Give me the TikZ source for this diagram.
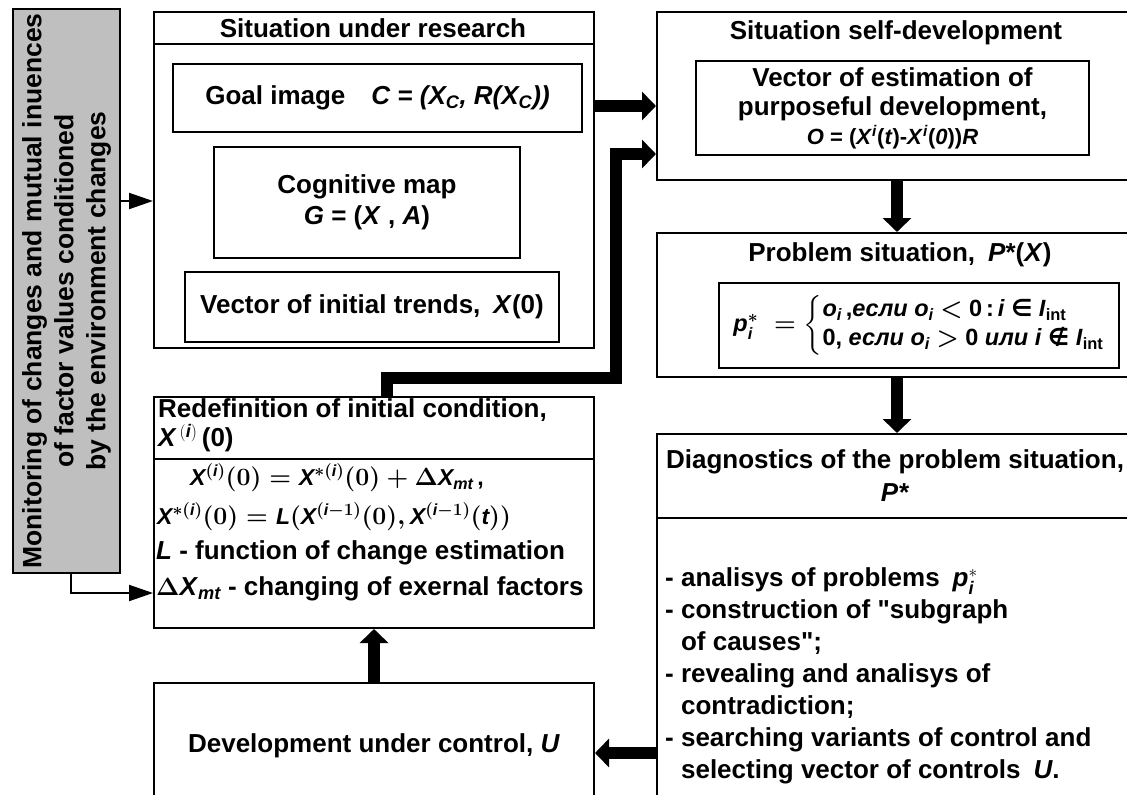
\documentclass[tikz,border=0pt]{standalone}
\usepackage{amsmath}
\usepackage{fontspec}
\setmainfont{Liberation Sans}
\newfontfamily\symf{DejaVu Sans}
\usepackage{tikz}
\usetikzlibrary{arrows.meta,positioning}

% italic letter in bold sans
\newcommand{\iv}[1]{\textit{#1}}

\begin{document}
\begin{tikzpicture}[x=1pt,y=-1pt,
    every node/.style={font=\fontsize{26}{31}\selectfont\bfseries\boldmath, inner sep=0pt},
    box/.style={draw, line width=2pt, anchor=north west, align=center},
    arr/.style={line width=2pt, -{Triangle[length=24pt,width=16pt]}},
    fat/.style={line width=12pt, -{Triangle[length=14pt,width=28pt]}}]
    \clip (0,0) rectangle (1127,795);

    % left column
    \node[box, fill=black!25, minimum width=107pt, minimum height=564pt] (mon) at (12,8) {};
    \node[rotate=90, align=center, font=\fontsize{26.5}{32}\selectfont\bfseries] at (mon.center)
        {Monitoring of changes and mutual inuences\\of factor values conditioned\\by the environment changes};

    \node[box, minimum width=440pt, minimum height=336pt] (sit) at (153,11) {};
    \draw[line width=2pt] ([yshift=-33pt]sit.north west) -- ([yshift=-33pt]sit.north east);
    \node at (373,28) {Situation under research};
    \node[box, minimum width=409pt, minimum height=68pt] (goal) at (172,63)
        {Goal image\quad \iv{C = (X\textsubscript{C}, R(X\textsubscript{C}))}};
    \node[box, minimum width=306pt, minimum height=111pt] (cog) at (213,146)
        {Cognitive map\\ \iv{G} = (\iv{X} , \iv{A})};
    \node[box, minimum width=374pt, minimum height=70pt] (trend) at (184,271)
        {Vector of initial trends,\enspace \iv{X}(0)};

    \node[box, minimum width=440pt, minimum height=231pt] (redef) at (153,396) {};
    \draw[line width=2pt] ([yshift=-63pt]redef.north west) -- ([yshift=-63pt]redef.north east);
    \node[anchor=north west, align=left, font=\fontsize{26}{29}\selectfont\bfseries] at (158,398)
        {Redefinition of initial condition,\\ \iv{X}$^{\,(\iv{i})}$\,(0)};
    \node[font=\fontsize{23}{28}\selectfont\bfseries\boldmath] at (337,478)
        {$\iv{X}^{(\iv{i})}(0) = \iv{X}^{*(\iv{i})}(0) + \Delta \iv{X}_{\iv{mt}}$\,,};
    \node[anchor=west, font=\fontsize{23}{28}\selectfont\bfseries\boldmath] at (157,517)
        {$\iv{X}^{*(\iv{i})}(0) = \iv{L}(\iv{X}^{(\iv{i}-1)}(0), \iv{X}^{(\iv{i}-1)}(\iv{t}))$};
    \node[anchor=west] at (156,553) {\iv{L} - function of change estimation};
    \node[anchor=west] at (156,589) {$\Delta$\iv{X}$_{\iv{mt}}$ - changing of exernal factors};

    \node[box, minimum width=440pt, minimum height=126pt] (dev) at (153,682)
        {Development under control, \iv{U}};

    % right column
    \node[box, minimum width=480pt, minimum height=168pt] (self) at (656,11) {};
    \node at (896,33) {Situation self-development};
    \node[box, minimum width=393pt, minimum height=94pt, font=\fontsize{26}{29}\selectfont\bfseries] (est) at (695,60)
        {Vector of estimation of\\ purposeful development,\\
         {\fontsize{22}{26}\selectfont \iv{O} = (\iv{X}\textsuperscript{\iv{i}}(\iv{t})-\iv{X}\textsuperscript{\iv{i}}(\iv{0}))\iv{R}}};

    \node[box, minimum width=480pt, minimum height=144pt] (prob) at (656,232) {};
    \node at (900,255) {Problem situation,\enspace \iv{P}*(\iv{X})};
    \node[box, minimum width=400pt, minimum height=85pt, font=\fontsize{23.5}{29}\selectfont\bfseries\boldmath] (form) at (718,282)
        {$\iv{p}_{\iv{i}}^{*}\; = \left\{\begin{tabular}{@{}l@{}}
            \iv{o}$_{\iv{i}}$\,,\iv{если o}$_{\iv{i}}$ $<$ 0\,:\,\iv{i} {\symf ∈} \iv{I}$_{\text{int}}$\\
            0, \iv{если o}$_{\iv{i}}$ $>$ 0 \iv{или i} {\symf ∉} \iv{I}$_{\text{int}}$
          \end{tabular}\right.$};

    \node[box, minimum width=480pt, minimum height=400pt] (diag) at (656,433) {};
    \draw[line width=2pt] ([yshift=-85pt]diag.north west) -- ([yshift=-85pt]diag.north east);
    \node[align=center, font=\fontsize{26}{33}\selectfont\bfseries] at (895,476)
        {Diagnostics of the problem situation,\\ \iv{P*}};
    \node[anchor=north west, align=left, font=\fontsize{26}{32}\selectfont\bfseries] at (665,567)
        {- analisys of problems\enspace \iv{p}$^{*}_{\iv{i}}$\\
         - construction of \textquotedbl subgraph\\
         \phantom{-} of causes\textquotedbl;\\
         - revealing and analisys of\\
         \phantom{-} contradiction;\\
         - searching variants of control and\\
         \phantom{-} selecting vector of controls\enspace \iv{U}.};

    % connectors
    \draw[arr] ([yshift=90pt]mon.east) -- ([yshift=-21pt]sit.west);
    \draw[arr] ([xshift=4.5pt]mon.south) |- ([yshift=-80.5pt]redef.west);
    \draw[fat] ([yshift=74pt]sit.east) -- ([yshift=-10pt]self.west);
    \coordinate (bend) at (616,378);
    \draw[fat] ([xshift=13pt]redef.north) |- (bend) |- ([yshift=-58pt]self.west);
    \draw[fat] (self.south) -- (prob.north);
    \draw[fat] (prob.south) -- (diag.north);
    \draw[fat] ([yshift=-119pt]diag.west) -- ([yshift=-7pt]dev.east);
    \draw[fat] (dev.north) -- (redef.south);
\end{tikzpicture}
\end{document}
